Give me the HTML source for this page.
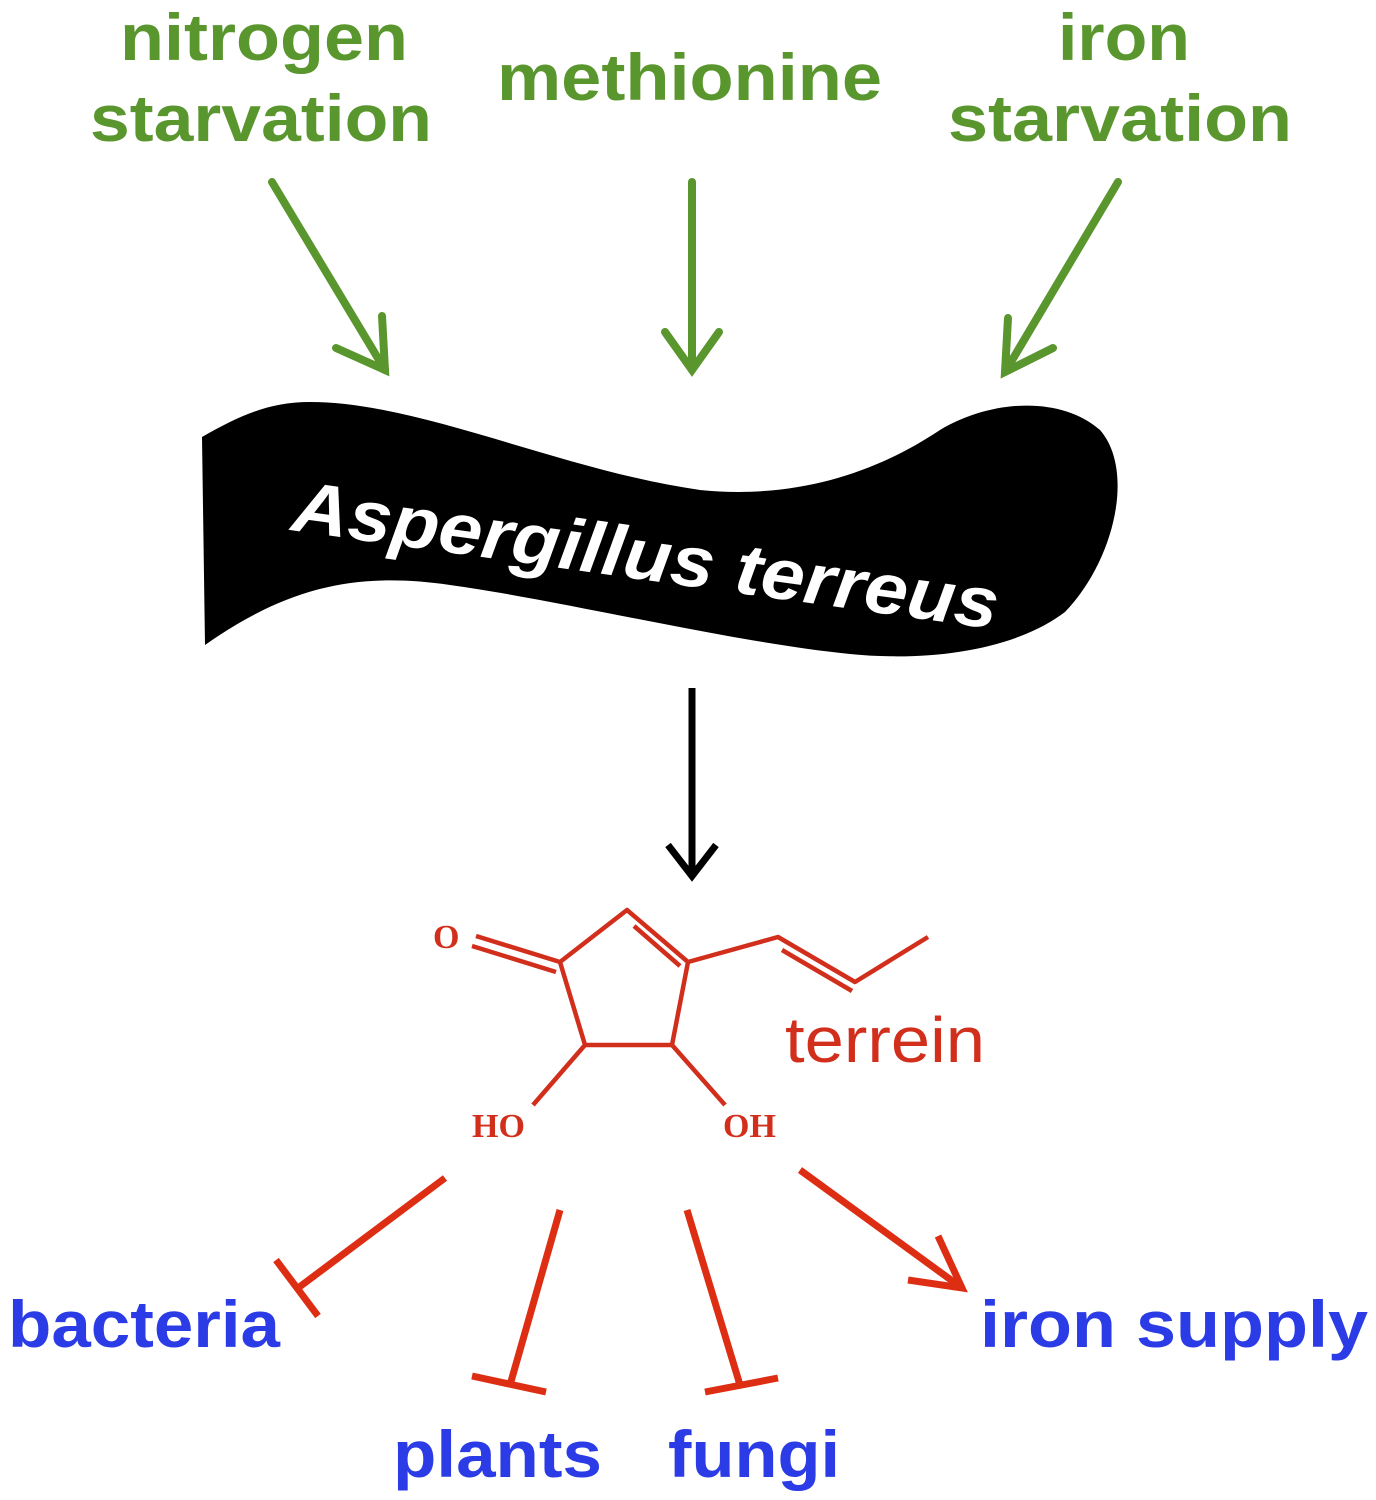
<!DOCTYPE html>
<html><head><meta charset="utf-8"><style>
html,body{margin:0;padding:0;background:#fff;}
svg{display:block;}
</style></head><body>
<svg width="1376" height="1500" viewBox="0 0 1376 1500" xmlns="http://www.w3.org/2000/svg">
<g font-family="Liberation Sans, sans-serif" font-weight="bold" font-size="66" fill="#5a962e" lengthAdjust="spacingAndGlyphs">
<text x="120" y="60" textLength="288" lengthAdjust="spacingAndGlyphs">nitrogen</text>
<text x="90" y="141" textLength="342" lengthAdjust="spacingAndGlyphs">starvation</text>
<text x="497" y="100" textLength="385" lengthAdjust="spacingAndGlyphs">methionine</text>
<text x="1058" y="60" textLength="132" lengthAdjust="spacingAndGlyphs">iron</text>
<text x="948" y="141" textLength="344" lengthAdjust="spacingAndGlyphs">starvation</text>
</g>
<g stroke="#5a962e" stroke-width="8" fill="none" stroke-linecap="round">
<line x1="272" y1="182" x2="385" y2="370"/>
<polyline points="336,348 385,370 382,316"/>
<line x1="692" y1="182" x2="692" y2="370"/>
<polyline points="665,332 692,370 719,332"/>
<line x1="1118" y1="182" x2="1005" y2="372"/>
<polyline points="1008,318 1005,372 1053,348"/>
</g>
<path d="M202,437 C240,415 270,402 310,402 C420,402 560,470 700,490 C800,500 880,470 940,430 C990,400 1060,395 1100,430 C1135,470 1115,560 1065,612 C1015,650 930,662 850,654 C730,642 560,600 450,585 C360,572 290,585 205,645 Z" fill="#000"/>
<text x="290" y="530" transform="rotate(8 290 530)" font-family="Liberation Sans, sans-serif" font-weight="bold" font-style="italic" font-size="72" fill="#fff" textLength="712" lengthAdjust="spacingAndGlyphs">Aspergillus terreus</text>
<g stroke="#000" stroke-width="7" fill="none">
<line x1="692" y1="688" x2="692" y2="876"/>
<polyline points="668,845 692,876 716,845"/>
</g>
<g stroke="#d22e1c" stroke-width="4.5" fill="none" stroke-linejoin="round">
<polyline points="560,962 627,910 688,962 672,1045 585,1045 560,962"/>
<line x1="634" y1="926" x2="680" y2="966"/>
<line x1="476" y1="936" x2="560" y2="962"/>
<line x1="472" y1="946" x2="556" y2="972"/>
<polyline points="688,962 778,937 855,982 928,937"/>
<line x1="782" y1="950" x2="852" y2="991"/>
<line x1="585" y1="1045" x2="533" y2="1105"/>
<line x1="672" y1="1045" x2="725" y2="1105"/>
</g>
<g font-family="Liberation Serif, serif" font-weight="bold" font-size="34" fill="#d22e1c">
<text x="433" y="948">O</text>
<text x="472" y="1137">HO</text>
<text x="723" y="1137">OH</text>
</g>
<text x="785" y="1062" font-family="Liberation Sans, sans-serif" font-size="64" fill="#d22e1c" textLength="200" lengthAdjust="spacingAndGlyphs">terrein</text>
<g stroke="#dd2e14" stroke-width="7" fill="none">
<line x1="445" y1="1178" x2="298" y2="1288"/>
<line x1="276" y1="1260" x2="318" y2="1316"/>
<line x1="560" y1="1210" x2="510" y2="1385"/>
<line x1="472" y1="1376" x2="546" y2="1392"/>
<line x1="687" y1="1210" x2="740" y2="1385"/>
<line x1="705" y1="1392" x2="778" y2="1378"/>
<line x1="800" y1="1170" x2="962" y2="1288"/>
<polyline points="908,1280 962,1288 938,1236"/>
</g>
<g font-family="Liberation Sans, sans-serif" font-weight="bold" font-size="66" fill="#2b3ce6">
<text x="8" y="1347" textLength="272" lengthAdjust="spacingAndGlyphs">bacteria</text>
<text x="393" y="1477" textLength="209" lengthAdjust="spacingAndGlyphs">plants</text>
<text x="668" y="1477" textLength="172" lengthAdjust="spacingAndGlyphs">fungi</text>
<text x="980" y="1347" textLength="388" lengthAdjust="spacingAndGlyphs">iron supply</text>
</g>
</svg>
</body></html>
